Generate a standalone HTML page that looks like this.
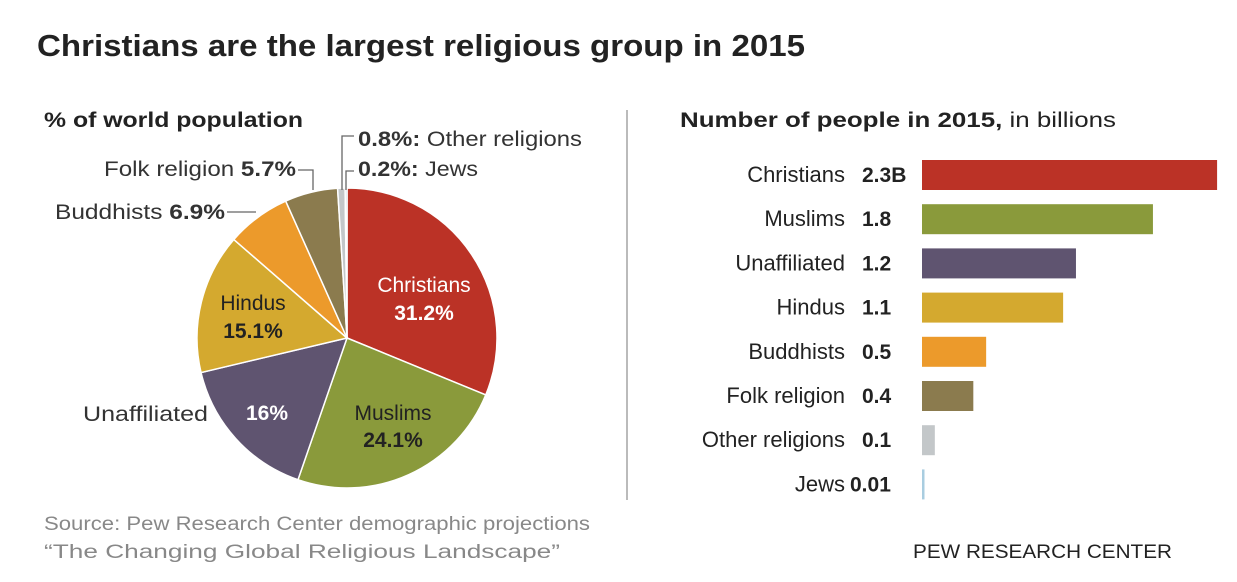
<!DOCTYPE html>
<html><head><meta charset="utf-8"><style>
body{margin:0;background:#fff}
svg{display:block;font-family:"Liberation Sans",sans-serif}
</style></head><body>
<svg id="c" width="1237" height="582" viewBox="0 0 1237 582">
<text x="37" y="56" font-size="31" font-weight="bold" fill="#222" textLength="768" lengthAdjust="spacingAndGlyphs">Christians are the largest religious group in 2015</text>
<text x="44" y="127" font-size="21" font-weight="bold" fill="#222" textLength="259" lengthAdjust="spacingAndGlyphs">% of world population</text>
<text x="680" y="127" font-size="21" fill="#222" textLength="436" lengthAdjust="spacingAndGlyphs"><tspan font-weight="bold">Number of people in 2015,</tspan> in billions</text>
<line x1="627" y1="110" x2="627" y2="500" stroke="#bbb" stroke-width="2"/>
<g id="pie"></g>
<g id="pielabels" font-size="21" fill="#333">
<path d="M342 190 V136 H354" fill="none" stroke="#666" stroke-width="1.3"/>
<path d="M346 190 V171 H354" fill="none" stroke="#666" stroke-width="1.3"/>
<text x="358" y="146" textLength="224" lengthAdjust="spacingAndGlyphs"><tspan font-weight="bold">0.8%:</tspan> Other religions</text>
<text x="358" y="176" textLength="120" lengthAdjust="spacingAndGlyphs"><tspan font-weight="bold">0.2%:</tspan> Jews</text>
<path d="M298 170 H313 V190" fill="none" stroke="#666" stroke-width="1.3"/>
<text x="104" y="176" textLength="192" lengthAdjust="spacingAndGlyphs">Folk religion <tspan font-weight="bold">5.7%</tspan></text>
<path d="M227 212 H256" fill="none" stroke="#666" stroke-width="1.3"/>
<text x="55" y="219" textLength="170" lengthAdjust="spacingAndGlyphs">Buddhists <tspan font-weight="bold">6.9%</tspan></text>
<text x="83" y="421" textLength="125" lengthAdjust="spacingAndGlyphs">Unaffiliated</text>
<text x="424" y="292" text-anchor="middle" fill="#fff">Christians</text>
<text x="424" y="320" text-anchor="middle" fill="#fff" font-weight="bold">31.2%</text>
<text x="393" y="420" text-anchor="middle" fill="#222">Muslims</text>
<text x="393" y="447" text-anchor="middle" fill="#222" font-weight="bold">24.1%</text>
<text x="267" y="420" text-anchor="middle" fill="#fff" font-weight="bold">16%</text>
<text x="253" y="310" text-anchor="middle" fill="#222">Hindus</text>
<text x="253" y="338" text-anchor="middle" fill="#222" font-weight="bold">15.1%</text>
</g>
<g id="bars"></g>
<text x="44" y="530" font-size="19" fill="#888" textLength="546" lengthAdjust="spacingAndGlyphs">Source: Pew Research Center demographic projections</text>
<text x="44" y="558" font-size="19" fill="#888" textLength="516" lengthAdjust="spacingAndGlyphs">“The Changing Global Religious Landscape”</text>
<text x="913" y="558" font-size="19" fill="#222" textLength="259" lengthAdjust="spacingAndGlyphs">PEW RESEARCH CENTER</text>
</svg>
<script>
const pieCats=["Christians","Muslims","Unaffiliated","Hindus","Buddhists","Folk religion","Other religions","Jews"];
const piePct=[31.2,24.1,16,15.1,6.9,5.7,0.8,0.2];
const barCats=["Christians","Muslims","Unaffiliated","Hindus","Buddhists","Folk religion","Other religions","Jews"];
const barVals=[2.3,1.8,1.2,1.1,0.5,0.4,0.1,0.01];
const barLabels=["2.3B","1.8","1.2","1.1","0.5","0.4","0.1","0.01"];
const colors=["#bb3226","#8a9a3b","#5f5470","#d4a92f","#ec9a2b","#8b7b4e","#c3c7c9","#a9cde0"];
const NS="http://www.w3.org/2000/svg";
const cx=347,cy=338,r=150;
const total=piePct.reduce((a,b)=>a+b,0);
const ang=p=>p/total*2*Math.PI;
const pie=document.getElementById('pie');
let acc=0;
piePct.forEach((v,i)=>{
  const a0=ang(acc),a1=ang(acc+v);acc+=v;
  const x0=cx+r*Math.sin(a0),y0=cy-r*Math.cos(a0),x1=cx+r*Math.sin(a1),y1=cy-r*Math.cos(a1);
  const p=document.createElementNS(NS,'path');
  p.setAttribute('d',`M${cx} ${cy} L${x0} ${y0} A${r} ${r} 0 ${a1-a0>Math.PI?1:0} 1 ${x1} ${y1} Z`);
  p.setAttribute('fill',colors[i]);p.setAttribute('stroke','#fff');p.setAttribute('stroke-width','1.5');
  
  
  pie.appendChild(p);
});
const bars=document.getElementById('bars');
const x0=922,pxPer=128.3,y0=160,step=44.2,bh=30;
barVals.forEach((v,i)=>{
  const y=y0+i*step;
  const rect=document.createElementNS(NS,'rect');
  rect.setAttribute('x',x0);rect.setAttribute('y',y);
  rect.setAttribute('width',Math.max(v*pxPer,2.5));rect.setAttribute('height',bh);
  rect.setAttribute('fill',colors[i]);
  
  
  bars.appendChild(rect);
  const t=document.createElementNS(NS,'text');
  t.setAttribute('x',845);t.setAttribute('y',y+bh/2+7);t.setAttribute('text-anchor','end');
  t.setAttribute('font-size','22');t.setAttribute('fill','#222');t.textContent=barCats[i];
  
  
  bars.appendChild(t);
  const vt=document.createElementNS(NS,'text');
  vt.setAttribute('x',i==7?850:862);vt.setAttribute('y',y+bh/2+7);
  vt.setAttribute('font-size','21');vt.setAttribute('font-weight','bold');vt.setAttribute('fill','#222');vt.textContent=barLabels[i];
  
  
  bars.appendChild(vt);
});
</script>
</body></html>
